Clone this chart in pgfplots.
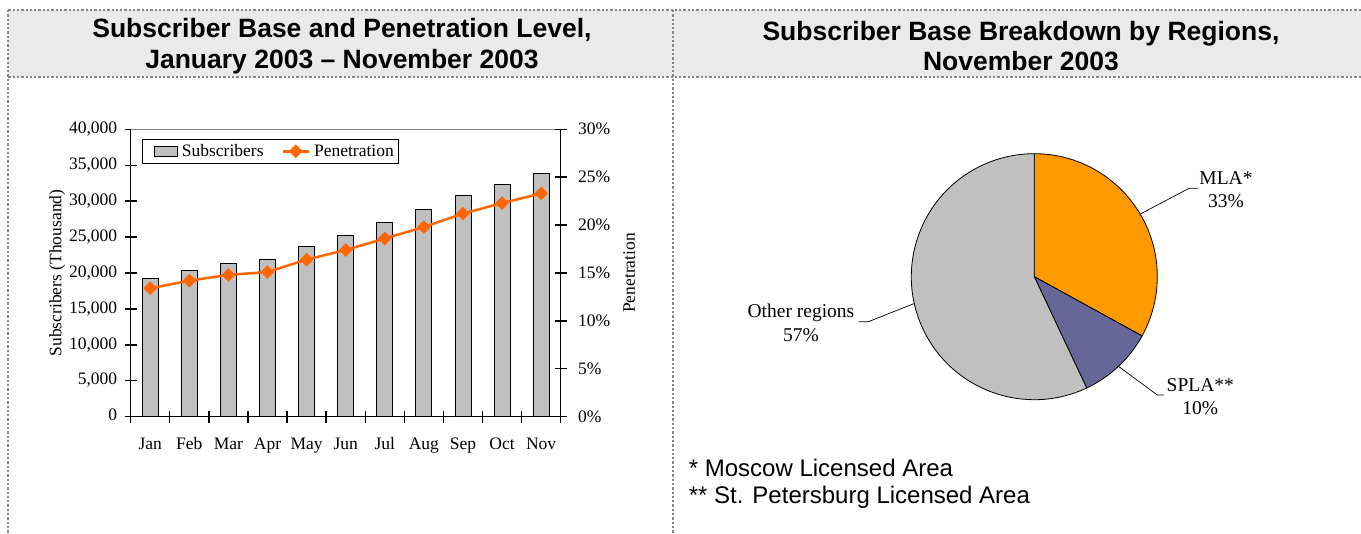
\documentclass[border=0pt]{standalone}
\usepackage{fontspec}
\setmainfont{Liberation Serif}
\newfontfamily\arial{Liberation Sans}
\usepackage{pgfplots}
\usepackage{pgfplotstable}
\pgfplotsset{compat=1.18}

\definecolor{barGray}{RGB}{192,192,192}
\definecolor{penOrange}{RGB}{255,102,0}
\definecolor{mlaOrange}{RGB}{255,153,0}
\definecolor{splaBlue}{RGB}{102,102,153}
\definecolor{headFill}{RGB}{234,234,234}
\definecolor{dotGray}{RGB}{135,135,135}

\pgfplotsset{/pgf/number format/assume math mode=true}

% subscribers (thousand) and penetration (%) by month
\pgfplotstableread{
m  sub    pen
1  19300  13.4
2  20400  14.2
3  21300  14.8
4  21900  15.1
5  23700  16.4
6  25300  17.4
7  27000  18.6
8  28800  19.8
9  30800  21.2
10 32300  22.3
11 33900  23.3
}\subdata

% regional breakdown, Nov 2003 (%)
\pgfplotstableread{
region val
MLA    33
SPLA   10
Other  57
}\piedata

\pgfplotstablegetelem{0}{val}\of\piedata \let\vmla\pgfplotsretval
\pgfplotstablegetelem{1}{val}\of\piedata \let\vspla\pgfplotsretval
\pgfplotstablegetelem{2}{val}\of\piedata \let\voth\pgfplotsretval

\begin{document}
\begin{tikzpicture}
\path[use as bounding box] (0,0) rectangle (1361pt,534pt);

% header boxes
\fill[headFill] (8.3pt,456.7pt) rectangle (1361pt,524pt);
\begin{scope}[dotGray, line width=2pt, dash pattern=on 2.3pt off 2pt]
  \draw (8.3pt,524pt) -- (1361pt,524pt);
  \draw (8.3pt,456.7pt) -- (1361pt,456.7pt);
  \draw (8.3pt,524pt) -- (8.3pt,0pt);
  \draw (672.7pt,524pt) -- (672.7pt,0pt);
\end{scope}
\node[font=\arial\bfseries\fontsize{26.5}{30.5}\selectfont, align=center] at (342pt,488pt)
  {Subscriber Base and Penetration Level,\\January 2003 – November 2003};
\node[font=\arial\bfseries\fontsize{26.5}{30.5}\selectfont, align=center] at (1021pt,488pt)
  {Subscriber Base Breakdown by Regions,\\November 2003};

% footnotes
\node[anchor=base west, inner sep=0pt, font=\arial\fontsize{24}{28}\selectfont] at (688.7pt,57.5pt) {* Moscow Licensed Area};
\node[anchor=base west, inner sep=0pt, font=\arial\fontsize{24}{28}\selectfont] at (688.7pt,30.5pt) {** St. Petersburg Licensed Area};

% bars: subscribers
\begin{axis}[
  at={(130.7pt,117.3pt)}, anchor=south west,
  scale only axis, width=430pt, height=287.4pt,
  xmin=0.5, xmax=11.5, ymin=0, ymax=40000,
  axis x line*=bottom, axis y line*=left,
  axis line style={black, line width=1.3pt},
  tick align=center, major tick length=12pt,
  tick style={black, line width=1.4pt},
  xtick={0.5,1.5,...,11.5},
  xticklabels={Jan,Feb,Mar,Apr,May,Jun,Jul,Aug,Sep,Oct,Nov,{}},
  typeset ticklabels with strut,
  xticklabel style={xshift=19.55pt, yshift=-9pt},
  ytick={0,5000,...,40000},
  scaled y ticks=false,
  yticklabel style={/pgf/number format/1000 sep={,}, xshift=-4pt},
  ylabel={Subscribers (Thousand)},
  ylabel shift=-3pt,
  font=\fontsize{17.5}{21}\selectfont,
]
\draw[gray, line width=0.8pt] (rel axis cs:0,1) -- (rel axis cs:1,1);
\addplot[ybar, bar width=16pt, fill=barGray, draw=black, line width=0.8pt]
  table[x=m, y=sub]{\subdata};
\end{axis}

% line: penetration
\begin{axis}[
  at={(130.7pt,117.3pt)}, anchor=south west,
  scale only axis, width=430pt, height=287.4pt,
  xmin=0.5, xmax=11.5, ymin=0, ymax=30,
  hide x axis, axis y line*=right,
  axis line style={black, line width=1.3pt},
  tick align=center, major tick length=12pt,
  tick style={black, line width=1.4pt},
  ytick={0,5,...,30},
  yticklabel={\pgfmathprintnumber{\tick}\%},
  yticklabel style={xshift=8pt},
  ylabel={Penetration},
  ylabel shift=6pt,
  font=\fontsize{17.5}{21}\selectfont,
  legend columns=2,
  legend cell align=left,
  legend style={at={(0.0256,0.966)}, anchor=north west, draw=black, line width=0.8pt,
    inner xsep=3pt, inner ysep=3pt, font=\fontsize{17.5}{20}\selectfont,
    /tikz/every odd column/.append style={column sep=2pt},
    /tikz/every even column/.append style={column sep=16pt}},
]
\addlegendimage{legend image code/.code={\path (-9pt,0pt); \draw[fill=barGray, draw=black, line width=0.8pt] (0pt,-5pt) rectangle (23pt,5pt);}}
\addlegendentry{Subscribers}
\addplot[penOrange, line width=2.5pt, mark=square*, mark size=3.6pt, mark options={rotate=45, solid},
  legend image code/.code={\draw[penOrange, line width=2.5pt, mark=square*, mark size=3.6pt, mark options={rotate=45}, mark repeat=2, mark phase=2] plot coordinates {(0pt,0pt) (13pt,0pt) (26pt,0pt)};}]
  table[x=m, y=pen]{\subdata};
\addlegendentry{Penetration\hspace{4pt}}
\end{axis}

% pie: regional breakdown
\begin{axis}[
  at={(1034.3pt,257.3pt)}, anchor=center,
  hide axis, x=1pt, y=1pt,
  xmin=-130, xmax=130, ymin=-130, ymax=130,
  clip=false,
  font=\fontsize{19.5}{23.5}\selectfont,
]
\draw[fill=mlaOrange, line width=0.8pt] (axis cs:0,0) -- ++(90:123pt)
  arc[start angle=90, end angle={90-3.6*\vmla}, radius=123pt] -- cycle;
\draw[fill=splaBlue, line width=0.8pt] (axis cs:0,0) -- ++({90-3.6*\vmla}:123pt)
  arc[start angle={90-3.6*\vmla}, end angle={90-3.6*(\vmla+\vspla)}, radius=123pt] -- cycle;
\draw[fill=barGray, line width=0.8pt] (axis cs:0,0) -- ++({90-3.6*(\vmla+\vspla)}:123pt)
  arc[start angle={90-3.6*(\vmla+\vspla)}, end angle={90-3.6*(\vmla+\vspla+\voth)}, radius=123pt] -- cycle;
% leader lines and labels
\draw[line width=0.7pt] (axis cs:105.9,62.6) -- (axis cs:154.8,88.4) -- (axis cs:163.7,88.4);
\draw[line width=0.7pt] (axis cs:84.2,-89.7) -- (axis cs:123,-118.3) -- (axis cs:129.6,-118.3);
\draw[line width=0.7pt] (axis cs:-120,-26.8) -- (axis cs:-166,-45) -- (axis cs:-175.6,-45);
\node[align=center] at (axis cs:191.7,87) {MLA*\\33\%};
\node[align=center] at (axis cs:166,-120) {SPLA**\\10\%};
\node[align=center] at (axis cs:-233.3,-46.3) {Other regions\\57\%};
\end{axis}
\end{tikzpicture}
\end{document}
